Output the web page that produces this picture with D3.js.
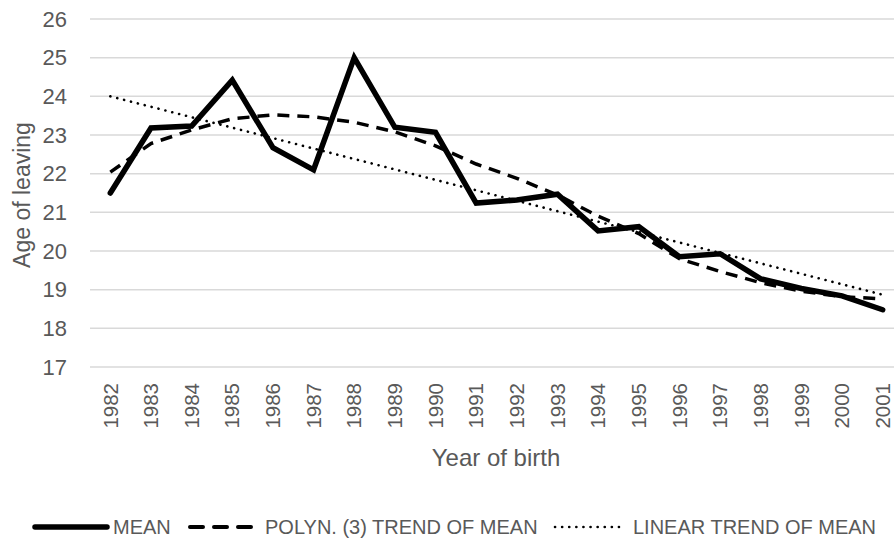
<!DOCTYPE html>
<html>
<head>
<meta charset="utf-8">
<script src="https://cdn.jsdelivr.net/npm/d3@7"></script>
<style>
  body { margin: 0; background: #fff; }
  svg text { font-family: "Liberation Sans", Arial, sans-serif; fill: #595959; }
</style>
</head>
<body>
<svg id="chart" width="894" height="542"></svg>
<script>
// values
const years = d3.range(1982, 2002).map(String);
const meanAge = [21.5, 23.18, 23.23, 24.42, 22.67, 22.1, 25.0, 23.2, 23.07, 21.24,
                 21.32, 21.47, 20.52, 20.63, 19.85, 19.93, 19.28, 19.03, 18.84, 18.48];
const polyTrend = [22.04, 22.78, 23.13, 23.42, 23.52, 23.47, 23.33, 23.08, 22.72, 22.25,
                   21.88, 21.45, 20.9, 20.45, 19.8, 19.47, 19.18, 18.96, 18.82, 18.76];
const linearTrend = [24.0, 23.73, 23.46, 23.19, 22.92, 22.65, 22.38, 22.11, 21.84, 21.57,
                     21.3, 21.03, 20.76, 20.49, 20.22, 19.95, 19.68, 19.41, 19.14, 18.87];
const yTicks = d3.range(17, 27);
const legendItems = [
  {label: 'MEAN', width: 5.5, dash: null},
  {label: 'POLYN. (3) TREND OF MEAN', width: 4, dash: '13,11'},
  {label: 'LINEAR TREND OF MEAN', width: 2.6, dash: '0.1,7'}
];

const svg = d3.select('#chart');
const x = d3.scaleBand().domain(years).range([90, 903]);
const y = d3.scaleLinear().domain([17, 26]).range([367, 19]);

// grid
svg.append('g').selectAll('line')
  .data(yTicks)
  .join('line')
    .attr('x1', 90).attr('x2', 894)
    .attr('y1', d => y(d)).attr('y2', d => y(d))
    .attr('stroke', '#d9d9d9').attr('stroke-width', 1.5);

// y tick labels
svg.append('g').selectAll('text')
  .data(yTicks)
  .join('text')
    .attr('x', 67).attr('y', d => y(d))
    .attr('dy', '0.35em')
    .attr('text-anchor', 'end')
    .attr('font-size', 22)
    .text(d => d);

// x tick labels (rotated)
svg.append('g').selectAll('text')
  .data(years)
  .join('text')
    .attr('transform', d => `translate(${x(d) + x.bandwidth() / 2},383) rotate(-90)`)
    .attr('dy', '0.35em')
    .attr('text-anchor', 'end')
    .attr('font-size', 20.5)
    .text(d => d);

// axis titles
svg.append('text')
  .attr('transform', 'translate(22,195) rotate(-90)')
  .attr('dy', '0.35em')
  .attr('text-anchor', 'middle')
  .attr('font-size', 23)
  .text('Age of leaving');
svg.append('text')
  .attr('x', 496).attr('y', 458)
  .attr('dy', '0.35em')
  .attr('text-anchor', 'middle')
  .attr('font-size', 24)
  .text('Year of birth');

// lines
const lineOf = d3.line()
  .x((_, i) => x(years[i]) + x.bandwidth() / 2)
  .y(d => y(d));

svg.append('path').datum(linearTrend)
  .attr('d', lineOf).attr('fill', 'none')
  .attr('stroke', '#000').attr('stroke-width', 2.6)
  .attr('stroke-linecap', 'round').attr('stroke-dasharray', '0.1,7');
svg.append('path').datum(polyTrend)
  .attr('d', lineOf).attr('fill', 'none')
  .attr('stroke', '#000').attr('stroke-width', 3.5)
  .attr('stroke-dasharray', '12,8');
svg.append('path').datum(meanAge)
  .attr('d', lineOf).attr('fill', 'none')
  .attr('stroke', '#000').attr('stroke-width', 5.5)
  .attr('stroke-linejoin', 'miter').attr('stroke-linecap', 'round');

// legend
const legendX = [35, 190, 555];
const lineLen = [72, 62, 65];
const legend = svg.append('g').selectAll('g')
  .data(legendItems)
  .join('g')
    .attr('transform', (d, i) => `translate(${legendX[i]},527)`);
legend.append('line')
  .attr('x1', 0).attr('x2', (d, i) => lineLen[i])
  .attr('stroke', '#000')
  .attr('stroke-width', d => d.width)
  .attr('stroke-linecap', 'round')
  .attr('stroke-dasharray', d => d.dash);
legend.append('text')
  .attr('x', (d, i) => lineLen[i] + 6 + (i === 1 ? 7 : 0) + (i === 2 ? 7 : 0))
  .attr('dy', '0.35em')
  .attr('font-size', 20)
  .text(d => d.label);
</script>
</body>
</html>
